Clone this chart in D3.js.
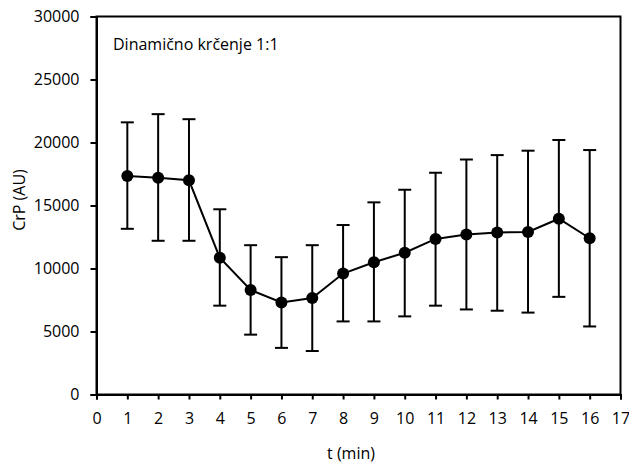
<!DOCTYPE html>
<html>
<head>
<meta charset="utf-8">
<script src="https://cdn.jsdelivr.net/npm/d3@7"></script>
<style>
  body { margin: 0; background: #fff; }
  svg text { font-family: "Open Sans", sans-serif; fill: #000; }
</style>
</head>
<body>
<svg id="chart" width="629" height="463"></svg>
<script>
// time points (min)
var times = [1, 2, 3, 4, 5, 6, 7, 8, 9, 10, 11, 12, 13, 14, 15, 16];
// mean CrP (AU)
var means = [17350, 17200, 17000, 10850, 8300, 7300, 7650, 9600, 10500, 11250, 12350, 12700, 12850, 12900, 13950, 12400];
// error bar ends
var upper = [21600, 22250, 21850, 14700, 11850, 10900, 11850, 13450, 15250, 16250, 17600, 18650, 19000, 19350, 20200, 19400];
var lower = [13150, 12200, 12200, 7050, 4750, 3700, 3450, 5800, 5800, 6200, 7050, 6750, 6650, 6500, 7750, 5400];
var xTicks = d3.range(0, 18);
var yTicks = [0, 5000, 10000, 15000, 20000, 25000, 30000];
var title = "Dinamično krčenje 1:1";

var svg = d3.select("#chart");
var fontSize = "16px";
var m = {left: 96.5, right: 620.5, top: 16.5, bottom: 394.5};

var x = d3.scaleLinear().domain([0, 17]).range([m.left, m.right]);
var y = d3.scaleLinear().domain([0, 30000]).range([m.bottom, m.top]);

var data = times.map(function (t, i) {
  return {t: t, m: means[i], hi: upper[i], lo: lower[i]};
});

// frame
svg.append("rect")
  .attr("x", m.left).attr("y", m.top)
  .attr("width", m.right - m.left).attr("height", m.bottom - m.top)
  .attr("fill", "none").attr("stroke", "#000").attr("stroke-width", 2);

var yAxis = svg.append("g")
  .attr("transform", "translate(" + m.left + ",0)")
  .call(d3.axisLeft(y).tickValues(yTicks).tickSize(6).tickPadding(11).tickFormat(d3.format("d")));
var xAxis = svg.append("g")
  .attr("transform", "translate(0," + m.bottom + ")")
  .call(d3.axisBottom(x).tickValues(xTicks).tickSize(5).tickPadding(13).tickFormat(d3.format("d")));

[yAxis, xAxis].forEach(function (g) {
  g.select(".domain").attr("stroke-width", 2);
  g.selectAll(".tick line").attr("stroke-width", 2);
  g.selectAll("text").style("font-family", '"Open Sans", sans-serif').style("font-size", fontSize).attr("fill", "#000");
});

// error bars
var eb = svg.append("g").attr("stroke", "#000").attr("stroke-width", 2);
eb.selectAll(".v").data(data).enter().append("line")
  .attr("x1", function (d) { return x(d.t); }).attr("x2", function (d) { return x(d.t); })
  .attr("y1", function (d) { return y(d.hi); }).attr("y2", function (d) { return y(d.lo); });
eb.selectAll(".capHi").data(data).enter().append("line")
  .attr("x1", function (d) { return x(d.t) - 6.5; }).attr("x2", function (d) { return x(d.t) + 6.5; })
  .attr("y1", function (d) { return y(d.hi); }).attr("y2", function (d) { return y(d.hi); });
eb.selectAll(".capLo").data(data).enter().append("line")
  .attr("x1", function (d) { return x(d.t) - 6.5; }).attr("x2", function (d) { return x(d.t) + 6.5; })
  .attr("y1", function (d) { return y(d.lo); }).attr("y2", function (d) { return y(d.lo); });

// mean line
svg.append("path")
  .datum(data)
  .attr("fill", "none").attr("stroke", "#000").attr("stroke-width", 2)
  .attr("d", d3.line().x(function (d) { return x(d.t); }).y(function (d) { return y(d.m); }));

svg.append("g").selectAll("circle").data(data).enter().append("circle")
  .attr("cx", function (d) { return x(d.t); })
  .attr("cy", function (d) { return y(d.m); })
  .attr("r", 6).attr("fill", "#000");

svg.append("text")
  .attr("x", 113).attr("y", 50)
  .style("font-size", fontSize)
  .text(title);

svg.append("text")
  .attr("x", 351).attr("y", 459)
  .attr("text-anchor", "middle")
  .style("font-size", fontSize)
  .text("t (min)");

svg.append("text")
  .attr("transform", "translate(25,200) rotate(-90)")
  .attr("text-anchor", "middle")
  .style("font-size", fontSize)
  .text("CrP (AU)");
</script>
</body>
</html>
